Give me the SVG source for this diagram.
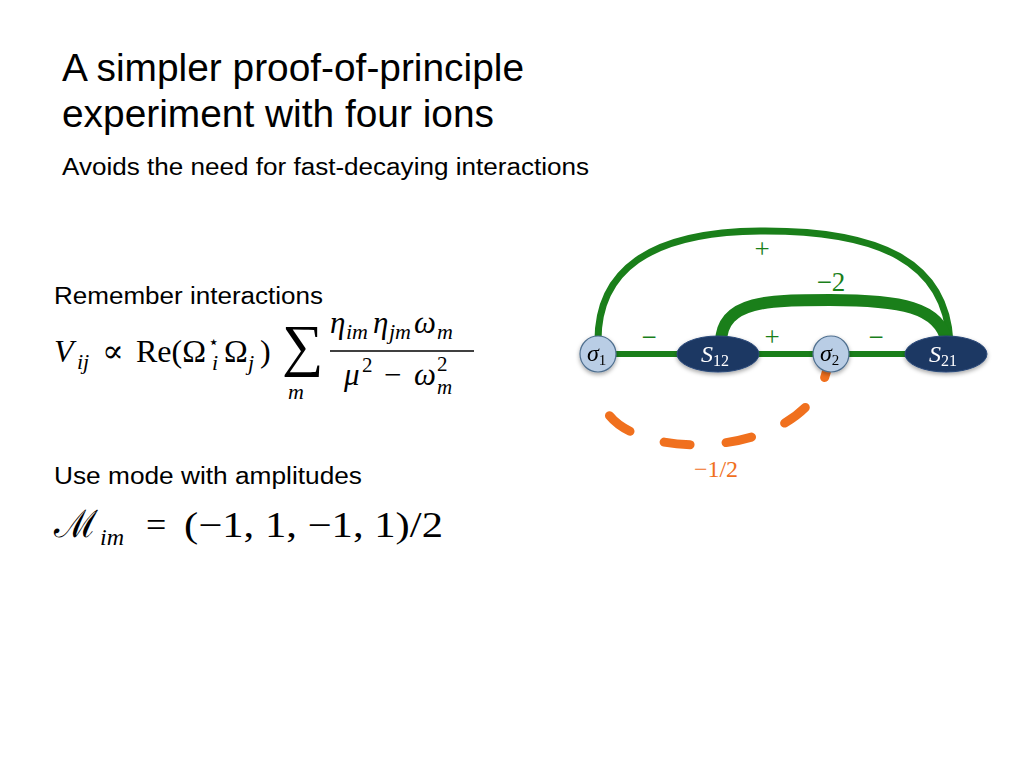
<svg xmlns="http://www.w3.org/2000/svg" width="1024" height="768" viewBox="0 0 1024 768">
<defs>
<style>
.body{font-family:"Liberation Sans","DejaVu Sans",sans-serif;fill:#000}
.m{font-family:"Liberation Serif","DejaVu Serif",serif;fill:#000}
.i{font-style:italic}
.g{fill:#1a7f1a;font-family:"Liberation Serif","DejaVu Serif",serif;font-size:27px}
.edge{fill:none;stroke:#1a7f1a;stroke-linecap:round}
.circ{fill:#b9cde5;stroke:#4f6f8f;stroke-width:1.2}
.ell{fill:#1f3864;stroke:#2a4a7a;stroke-width:1}
.nl{font-family:"Liberation Serif","DejaVu Serif",serif;font-size:24px;font-style:italic}
</style>
<filter id="sh" x="-30%" y="-30%" width="160%" height="180%">
<feDropShadow dx="0" dy="2" stdDeviation="2" flood-color="#000" flood-opacity="0.35"/>
</filter>
</defs>
<rect width="1024" height="768" fill="#fff"/>

<g id="title">
<text class="body" x="62" y="81" font-size="38" textLength="462" lengthAdjust="spacingAndGlyphs">A simpler proof-of-principle</text>
<text class="body" x="62" y="127" font-size="38" textLength="432" lengthAdjust="spacingAndGlyphs">experiment with four ions</text>
<text class="body" x="62" y="175" font-size="23" textLength="527" lengthAdjust="spacingAndGlyphs">Avoids the need for fast-decaying interactions</text>
</g>

<g id="eq1">
<text class="body" x="54" y="304" font-size="23" textLength="269" lengthAdjust="spacingAndGlyphs">Remember interactions</text>
<text class="m i" x="54" y="362" font-size="32">V</text>
<text class="m i" x="77" y="369" font-size="22">ij</text>
<text class="m" x="102" y="362" font-size="32">∝</text>
<text class="m" x="136" y="362" font-size="32">Re(Ω</text>
<text class="m" x="208" y="348" font-size="18">⋆</text>
<text class="m i" x="212" y="370" font-size="22">i</text>
<text class="m" x="224" y="362" font-size="32">Ω</text>
<text class="m i" x="248" y="370" font-size="22">j</text>
<text class="m" x="260" y="362" font-size="32">)</text>
<text class="m" x="282" y="365" font-size="58">∑</text>
<text class="m i" x="288" y="399" font-size="22">m</text>
<text class="m i" x="330" y="333" font-size="31">η</text>
<text class="m i" x="346" y="339" font-size="22">im</text>
<text class="m i" x="373" y="333" font-size="31">η</text>
<text class="m i" x="389" y="339" font-size="22">jm</text>
<text class="m i" x="414" y="333" font-size="31">ω</text>
<text class="m i" x="437" y="339" font-size="22">m</text>
<line x1="330" y1="351" x2="474" y2="351" stroke="#000" stroke-width="1.5"/>
<text class="m i" x="344" y="385" font-size="31">μ</text>
<text class="m" x="362" y="372" font-size="21">2</text>
<text class="m" x="384" y="385" font-size="31">−</text>
<text class="m i" x="414" y="385" font-size="31">ω</text>
<text class="m" x="437" y="371" font-size="21">2</text>
<text class="m i" x="437" y="394" font-size="21">m</text>
</g>

<g id="eq2">
<text class="body" x="54" y="484" font-size="23" textLength="308" lengthAdjust="spacingAndGlyphs">Use mode with amplitudes</text>
<text class="m" x="54" y="537" font-size="38" font-family="DejaVu Serif">ℳ</text>
<text class="m i" x="100" y="545" font-size="24">im</text>
<text class="m" x="146" y="537" font-size="36">=</text>
<text class="m" x="184" y="537" font-size="36" textLength="259" lengthAdjust="spacingAndGlyphs">(−1, 1, −1, 1)/2</text>
</g>

<g id="connectors">
<path class="edge" stroke-width="7" d="M598,345 C596,270 650,232 760,231 C880,230 946,262 950,342"/>
<path class="edge" stroke-width="12" d="M721,342 C722,300 770,300 830,300 C900,300 940,307 947,342"/>
<line class="edge" stroke-width="6" x1="598" y1="354" x2="946" y2="354"/>
<path fill="none" stroke="#f0701e" stroke-width="9" stroke-linecap="round" stroke-dasharray="26 36" d="M829,352 C828,468 600,468 601,392"/>
<text class="g" x="762" y="258" text-anchor="middle">+</text>
<text class="g" x="831" y="291" text-anchor="middle">−2</text>
<text class="g" x="649" y="346" text-anchor="middle">−</text>
<text class="g" x="772" y="346" text-anchor="middle">+</text>
<text class="g" x="876" y="346" text-anchor="middle">−</text>
<text x="716" y="477" text-anchor="middle" fill="#f0701e" font-family="Liberation Serif, DejaVu Serif, serif" font-size="24">−1/2</text>
</g>

<g id="sigma1" filter="url(#sh)">
<circle class="circ" cx="598" cy="354" r="18"/>
<text class="nl" x="587" y="361" fill="#000">σ<tspan font-size="15" font-style="normal" dy="4">1</tspan></text>
</g>
<g id="S12" filter="url(#sh)">
<ellipse class="ell" cx="718" cy="354" rx="41" ry="18"/>
<text class="nl" x="701" y="362" fill="#fff">S<tspan font-size="16" font-style="normal" dy="4">12</tspan></text>
</g>
<g id="sigma2" filter="url(#sh)">
<circle class="circ" cx="831" cy="354" r="18"/>
<text class="nl" x="820" y="361" fill="#000">σ<tspan font-size="15" font-style="normal" dy="4">2</tspan></text>
</g>
<g id="S21" filter="url(#sh)">
<ellipse class="ell" cx="946" cy="354" rx="41" ry="18"/>
<text class="nl" x="929" y="362" fill="#fff">S<tspan font-size="16" font-style="normal" dy="4">21</tspan></text>
</g>
</svg>
